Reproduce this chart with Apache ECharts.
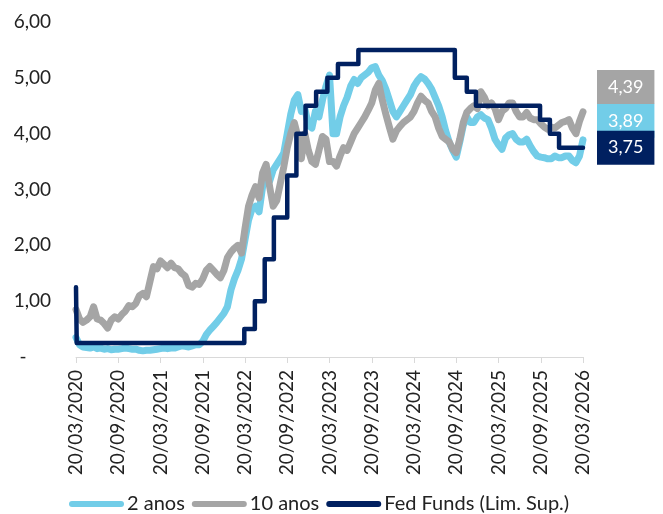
<!DOCTYPE html>
<html>
<head>
<meta charset="utf-8">
<script src="https://cdn.jsdelivr.net/npm/echarts@6/dist/echarts.min.js"></script>
<style>
  html, body { margin: 0; padding: 0; background: #fff; }
  #chart { width: 663px; height: 514px; }
</style>
</head>
<body>
<div id="chart"></div>
<script>
// Tick labels along the date axis (every 6 months from 20/03/2020)
const tickLabels = [
  '20/03/2020', '20/09/2020', '20/03/2021', '20/09/2021', '20/03/2022',
  '20/09/2022', '20/03/2023', '20/09/2023', '20/03/2024', '20/09/2024',
  '20/03/2025', '20/09/2025', '20/03/2026'
];

// US Treasury yields (%), sampled twice a month from 20/03/2020 to 20/03/2026
const yield2y = [
  0.35, 0.22, 0.18, 0.17, 0.16, 0.18, 0.15, 0.16, 0.14, 0.15, 0.13,
  0.14, 0.14, 0.15, 0.16, 0.15, 0.14, 0.14, 0.12, 0.11, 0.12,
  0.12, 0.13, 0.14, 0.15, 0.16, 0.15, 0.16, 0.16, 0.18, 0.20,
  0.19, 0.18, 0.20, 0.22, 0.22, 0.28, 0.40, 0.48, 0.55, 0.62,
  0.70, 0.78, 0.90, 1.20, 1.40, 1.55, 1.75, 2.10, 2.45, 2.65,
  2.70, 2.60, 3.05, 3.20, 3.15, 3.35, 3.45, 3.55, 3.65, 4.00,
  4.35, 4.60, 4.70, 4.40, 4.45, 4.15, 4.10, 4.40, 4.30, 4.60,
  4.85, 5.05, 4.00, 4.00, 4.30, 4.50, 4.65, 4.85, 4.97, 4.90,
  5.00, 5.05, 5.10, 5.18, 5.20, 5.05, 4.95, 4.80, 4.60, 4.40,
  4.30, 4.40, 4.50, 4.60, 4.70, 4.85, 4.95, 5.02, 4.98, 4.90,
  4.80, 4.65, 4.50, 4.30, 4.05, 3.85, 3.70, 3.58, 3.85, 4.15,
  4.30, 4.20, 4.20, 4.30, 4.34, 4.28, 4.25, 4.10, 3.90, 3.80,
  3.72, 3.92, 3.98, 4.00, 3.90, 3.85, 3.85, 3.90, 3.78, 3.68,
  3.60, 3.58, 3.57, 3.55, 3.55, 3.60, 3.57, 3.57, 3.60, 3.60,
  3.52, 3.48, 3.60, 3.89
];

const yield10y = [
  0.85, 0.68, 0.62, 0.66, 0.72, 0.90, 0.68, 0.66, 0.60, 0.52, 0.66,
  0.72, 0.68, 0.76, 0.82, 0.92, 0.90, 0.96, 1.10, 1.14, 1.08,
  1.35, 1.62, 1.58, 1.72, 1.66, 1.60, 1.68, 1.60, 1.58, 1.50,
  1.45, 1.28, 1.25, 1.32, 1.30, 1.40, 1.55, 1.62, 1.55, 1.48,
  1.42, 1.55, 1.78, 1.88, 1.95, 2.00, 1.86, 2.30, 2.70, 2.90,
  3.05, 2.85, 3.30, 3.45, 3.05, 2.70, 2.80, 3.10, 3.40, 3.75,
  4.00, 4.20, 3.95, 3.55, 4.00, 3.70, 3.50, 3.45, 3.70, 3.95,
  3.90, 3.50, 3.50, 3.42, 3.60, 3.75, 3.70, 3.85, 4.00, 4.10,
  4.20, 4.30, 4.42, 4.55, 4.78, 4.90, 4.60, 4.35, 4.12, 3.90,
  4.05, 4.13, 4.20, 4.25, 4.30, 4.40, 4.55, 4.67, 4.60, 4.55,
  4.40, 4.30, 4.10, 3.95, 3.90, 3.85, 3.72, 3.66, 3.90, 4.20,
  4.38, 4.45, 4.50, 4.45, 4.75, 4.65, 4.50, 4.55, 4.45, 4.25,
  4.40, 4.45, 4.55, 4.55, 4.40, 4.30, 4.30, 4.38, 4.28, 4.25,
  4.25, 4.18, 4.12, 4.08, 4.12, 4.10, 4.15, 4.20, 4.22, 4.25,
  4.10, 4.00, 4.22, 4.39
];

// Fed Funds target, upper bound (%): months after 20/03/2020 where each level starts
const fedMonths = [0, 0.1, 23.9, 25.4, 26.8, 28.1, 30.0, 31.3, 32.6, 34.1, 35.7, 37.2, 40.1, 53.8, 55.5, 56.8, 65.9, 67.3, 68.6, 72];
const fedRates  = [1.25, 0.25, 0.50, 1.00, 1.75, 2.50, 3.25, 4.00, 4.50, 4.75, 5.00, 5.25, 5.50, 5.00, 4.75, 4.50, 4.25, 4.00, 3.75, 3.75];

const seriesNames = ['2 anos', '10 anos', 'Fed Funds (Lim. Sup.)'];
const seriesColors = ['#72CDE8', '#A5A5A5', '#002060'];

const FONT = 'Lato, "Open Sans", sans-serif';
const fmt = v => v.toFixed(2).replace('.', ',');
const halfMonthly = arr => arr.map((v, i) => [i * 0.5, v]);

function endLabel(color, dy) {
  return {
    show: true,
    formatter: p => fmt(p.value[1]),
    color: '#fff',
    backgroundColor: color,
    fontFamily: FONT,
    fontSize: 18,
    lineHeight: 18,
    padding: [8, 11, 8, 11],
    distance: 14,
    offset: [0, dy]
  };
}

const chart = echarts.init(document.getElementById('chart'), null, { renderer: 'canvas' });

chart.setOption({
  animation: false,
  backgroundColor: '#fff',
  grid: { left: 76, right: 80, top: 22, bottom: 157, containLabel: false },
  legend: {
    left: 64,
    top: 489,
    itemWidth: 55,
    itemHeight: 6,
    itemGap: 7,
    icon: 'path://M3,0 H52 A3,3 0 0 1 52,6 H3 A3,3 0 0 1 3,0 Z',
    textStyle: { fontFamily: FONT, fontSize: 20, color: '#222', padding: [0, 0, 0, -2] },
    data: seriesNames
  },
  xAxis: {
    type: 'value',
    min: 0,
    max: 72,
    interval: 6,
    splitLine: { show: false },
    axisLine: { show: true, lineStyle: { color: '#D9D9D9', width: 1 } },
    axisTick: { show: true, length: 6, lineStyle: { color: '#D9D9D9' } },
    axisLabel: {
      rotate: 90,
      margin: 13,
      fontFamily: FONT,
      fontSize: 19,
      color: '#222',
      formatter: v => tickLabels[Math.round(v / 6)]
    }
  },
  yAxis: {
    type: 'value',
    min: 0,
    max: 6,
    interval: 1,
    splitLine: { show: false },
    axisLine: { show: false },
    axisTick: { show: false },
    axisLabel: {
      margin: 25,
      fontFamily: FONT,
      fontSize: 19,
      color: '#222',
      formatter: v => (v === 0 ? '-     ' : fmt(v))
    }
  },
  series: [
    {
      name: seriesNames[0],
      type: 'line',
      data: halfMonthly(yield2y),
      showSymbol: false,
      symbol: 'none',
      clip: false,
      z: 2,
      color: seriesColors[0],
      lineStyle: { width: 7, color: seriesColors[0], cap: 'round', join: 'round' },
      endLabel: endLabel(seriesColors[0], -19)
    },
    {
      name: seriesNames[1],
      type: 'line',
      data: halfMonthly(yield10y),
      showSymbol: false,
      symbol: 'none',
      clip: false,
      z: 3,
      color: seriesColors[1],
      lineStyle: { width: 7, color: seriesColors[1], cap: 'round', join: 'round' },
      endLabel: endLabel(seriesColors[1], -25)
    },
    {
      name: seriesNames[2],
      type: 'line',
      step: 'end',
      data: fedMonths.map((m, i) => [m, fedRates[i]]),
      showSymbol: false,
      symbol: 'none',
      clip: false,
      z: 4,
      color: seriesColors[2],
      lineStyle: { width: 4.5, color: seriesColors[2], cap: 'round', join: 'round' },
      endLabel: endLabel(seriesColors[2], 0)
    }
  ]
});
</script>
</body>
</html>
